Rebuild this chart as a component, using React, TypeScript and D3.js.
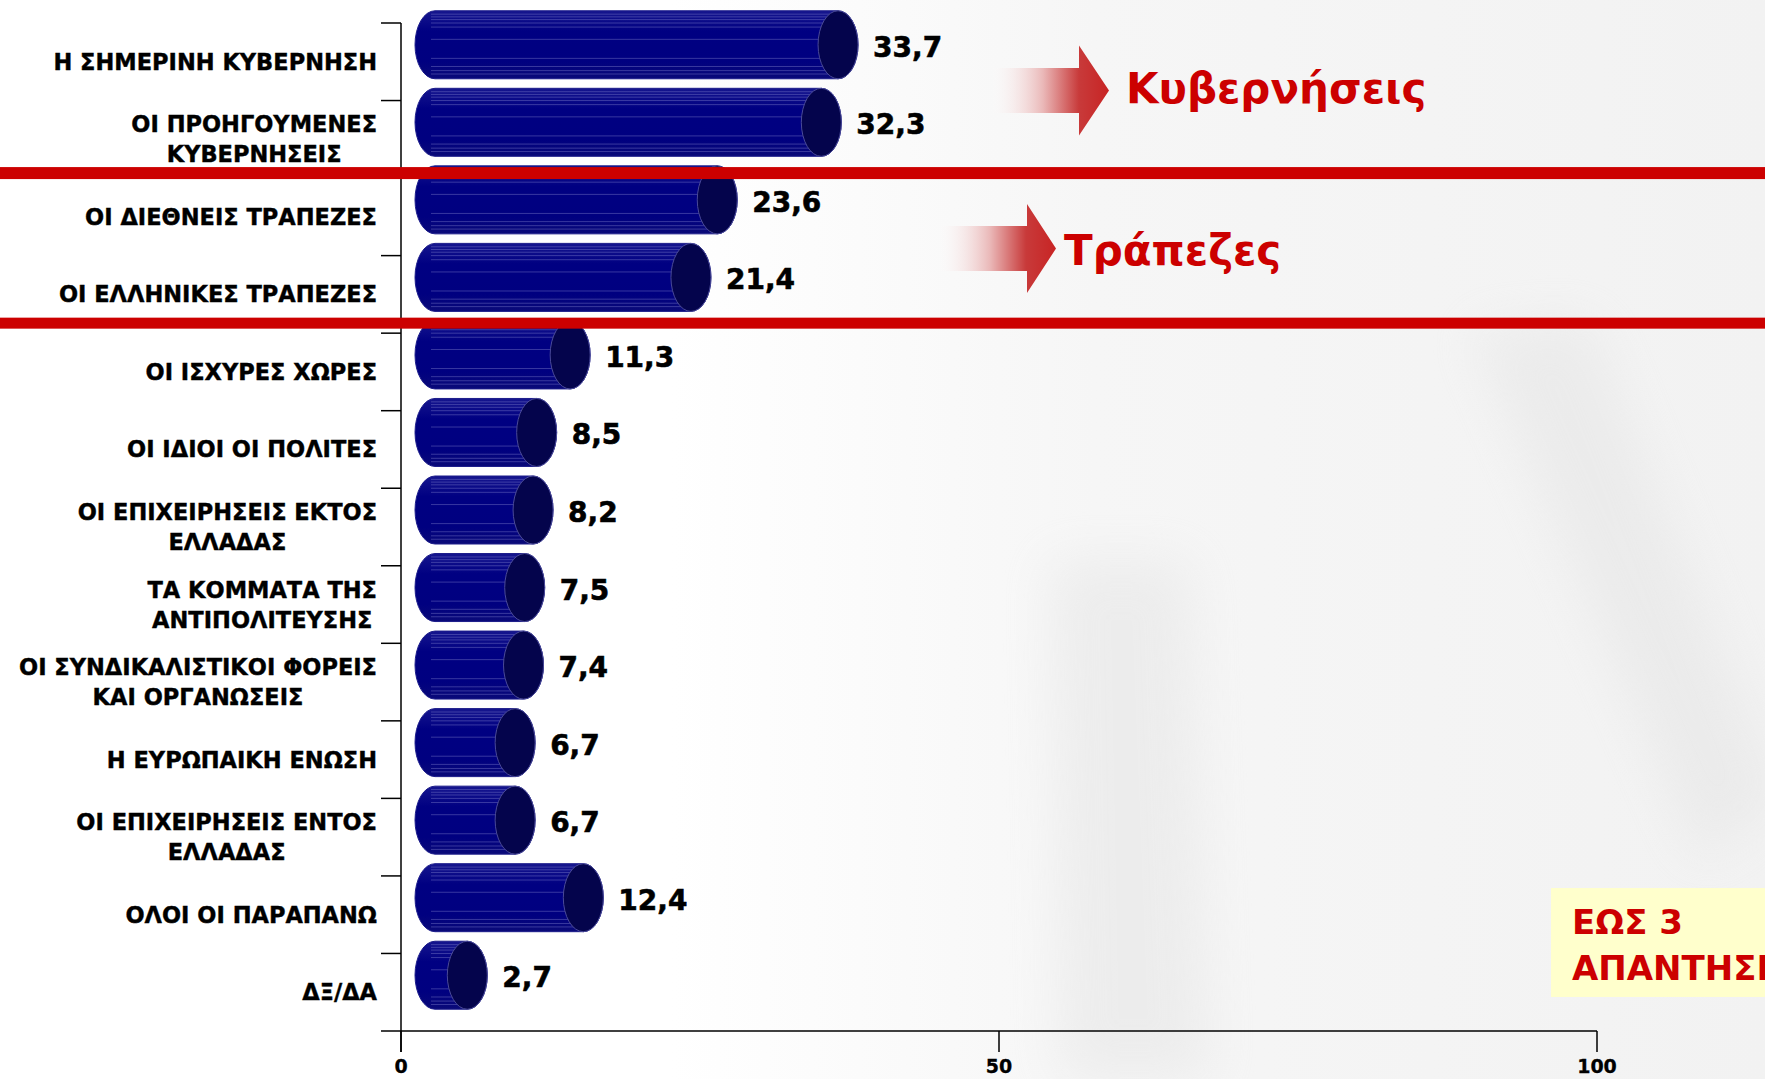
import { useMemo } from "react";
import * as d3 from "d3";

// categories top to bottom, "\n" = line break in the label
const categories = [
  "Η ΣΗΜΕΡΙΝΗ ΚΥΒΕΡΝΗΣΗ",
  "ΟΙ ΠΡΟΗΓΟΥΜΕΝΕΣ\nΚΥΒΕΡΝΗΣΕΙΣ",
  "ΟΙ ΔΙΕΘΝΕΙΣ ΤΡΑΠΕΖΕΣ",
  "ΟΙ ΕΛΛΗΝΙΚΕΣ ΤΡΑΠΕΖΕΣ",
  "ΟΙ ΙΣΧΥΡΕΣ ΧΩΡΕΣ",
  "ΟΙ ΙΔΙΟΙ ΟΙ ΠΟΛΙΤΕΣ",
  "ΟΙ ΕΠΙΧΕΙΡΗΣΕΙΣ ΕΚΤΟΣ\nΕΛΛΑΔΑΣ",
  "ΤΑ ΚΟΜΜΑΤΑ ΤΗΣ\nΑΝΤΙΠΟΛΙΤΕΥΣΗΣ",
  "ΟΙ ΣΥΝΔΙΚΑΛΙΣΤΙΚΟΙ ΦΟΡΕΙΣ\nΚΑΙ ΟΡΓΑΝΩΣΕΙΣ",
  "Η ΕΥΡΩΠΑΙΚΗ ΕΝΩΣΗ",
  "ΟΙ ΕΠΙΧΕΙΡΗΣΕΙΣ ΕΝΤΟΣ\nΕΛΛΑΔΑΣ",
  "ΟΛΟΙ ΟΙ ΠΑΡΑΠΑΝΩ",
  "ΔΞ/ΔΑ",
];
const values = [33.7, 32.3, 23.6, 21.4, 11.3, 8.5, 8.2, 7.5, 7.4, 6.7, 6.7, 12.4, 2.7];
const xTicks = [0, 50, 100];

const groupLabels = ["Κυβερνήσεις", "Τράπεζες"];
const noteLines = ["ΕΩΣ 3", "ΑΠΑΝΤΗΣΕΙΣ"];

const W = 1765;
const H = 1079;
const FONT = "'DejaVu Sans', Verdana, sans-serif";
const LABEL_SIZE = 22.5;

// 3D look of the cylinders
const DEPTH_X = 34;
const DEPTH_Y = -17;
const RX = 20;
const texture = [0.05, 0.09, 0.13, 0.18, 0.24, 0.42, 0.7, 0.82, 0.88, 0.93];

const fmt = (v: number) => v.toFixed(1).replace(".", ",");

export default function App() {
  const x = d3.scaleLinear().domain([0, 100]).range([401, 1597]);
  const y = d3.scaleBand<string>().domain(categories).range([23, 1031]).padding(0);
  const bw = y.bandwidth();
  const ry = 34;

  // measure label lines so two-line labels are centred on each other, right aligned as a block
  const widths = useMemo(() => {
    const ctx = document.createElement("canvas").getContext("2d");
    if (!ctx) return categories.map(() => 300);
    ctx.font = `bold ${LABEL_SIZE}px ${FONT}`;
    return categories.map((c) => d3.max(c.split("\n"), (l) => ctx.measureText(l).width) || 0);
  }, []);

  const labelRight = 377;

  const bars = categories.map((c, i) => {
    const v = values[i];
    const yc = (y(c) || 0) + bw / 2 + DEPTH_Y;
    const x0 = x(0) + DEPTH_X;
    const x1 = x(v) + DEPTH_X;
    const yT = yc - ry;
    const yB = yc + ry;
    const body = `M${x0},${yT} L${x1},${yT} A${RX},${ry} 0 0 1 ${x1},${yB} L${x0},${yB} A${RX},${ry} 0 0 1 ${x0},${yT} Z`;
    return (
      <g key={c}>
        <path d={body} fill="url(#barBody)" stroke="#1c1c8a" strokeWidth={1} />
        {texture.map((t, k) => (
          <line
            key={k}
            x1={x0 - 4}
            x2={x1}
            y1={yT + t * 2 * ry}
            y2={yT + t * 2 * ry}
            stroke="#7a7ac8"
            strokeOpacity={0.45}
            strokeWidth={1}
          />
        ))}
        <ellipse cx={x1} cy={yc} rx={RX} ry={ry} fill="#04044c" stroke="#4a4a98" strokeWidth={1} />
        <text
          x={x1 + RX + 15}
          y={yc + 12}
          fontFamily={FONT}
          fontWeight="bold"
          fontSize={28}
          fill="#000"
          stroke="#000"
          strokeWidth={0.6}
        >
          {fmt(v)}
        </text>
      </g>
    );
  });

  const catLabels = categories.map((c, i) => {
    const lines = c.split("\n");
    const cy = (y(c) || 0) + bw / 2;
    const cx = labelRight - widths[i] / 2;
    const lh = 30;
    return (
      <text
        key={c}
        fontFamily={FONT}
        fontWeight="bold"
        fontSize={LABEL_SIZE}
        fill="#000"
        stroke="#000"
        strokeWidth={0.4}
        textAnchor="middle"
      >
        {lines.map((l, k) => (
          <tspan key={k} x={cx} y={cy + 8 + (k - (lines.length - 1) / 2) * lh}>
            {l}
          </tspan>
        ))}
      </text>
    );
  });

  const arrow = (bx0: number, bx1: number, tip: number, cy: number, bh: number, hh: number) =>
    `M${bx0},${cy - bh / 2} L${bx1},${cy - bh / 2} L${bx1},${cy - hh / 2} L${tip},${cy} L${bx1},${cy + hh / 2} L${bx1},${cy + bh / 2} L${bx0},${cy + bh / 2} Z`;

  const redLine1 = (y(categories[2]) || 0) - 5;
  const redLine2 = (y(categories[4]) || 0) - 10;

  return (
    <svg
      width={W}
      height={H}
      style={{ position: "absolute", left: 0, top: 0, background: "#fff" }}
    >
      <defs>
        <linearGradient id="bgWash" x1="0" x2="1" y1="0" y2="0">
          <stop offset="0" stopColor="#ffffff" />
          <stop offset="0.38" stopColor="#ffffff" />
          <stop offset="0.62" stopColor="#f6f6f6" />
          <stop offset="1" stopColor="#f2f2f2" />
        </linearGradient>
        <filter id="soft" x="-50%" y="-50%" width="200%" height="200%">
          <feGaussianBlur stdDeviation="25" />
        </filter>
        <linearGradient id="barBody" x1="0" x2="0" y1="0" y2="1">
          <stop offset="0" stopColor="#16168e" />
          <stop offset="0.3" stopColor="#000082" />
          <stop offset="0.75" stopColor="#000080" />
          <stop offset="1" stopColor="#0a0a78" />
        </linearGradient>
        <linearGradient id="arrowFill" x1="0" x2="1" y1="0" y2="0">
          <stop offset="0" stopColor="#ffffff" stopOpacity={0} />
          <stop offset="0.45" stopColor="#eab8b8" />
          <stop offset="0.75" stopColor="#c83a3a" />
          <stop offset="1" stopColor="#c82424" />
        </linearGradient>
      </defs>

      {/* faint photo-like background */}
      <rect x={0} y={0} width={W} height={H} fill="url(#bgWash)" />
      <g filter="url(#soft)" fill="#e2e2e2" opacity={0.45}>
        <path d="M1470,330 L1590,320 L1780,800 L1700,860 Z" />
        <path d="M1050,560 L1190,560 L1210,1079 L1060,1079 Z" />
      </g>

      {bars}

      {/* axes */}
      <g stroke="#000" strokeWidth={1.5} fill="none">
        <line x1={x(0)} x2={x(0)} y1={y.range()[0]} y2={y.range()[1] + 21} />
        <line x1={x(0) - 20} x2={x(100)} y1={y.range()[1]} y2={y.range()[1]} />
        {categories.map((c) => (
          <line key={c} x1={x(0) - 20} x2={x(0)} y1={y(c) || 0} y2={y(c) || 0} />
        ))}
        {xTicks.map((t) => (
          <line key={t} x1={x(t)} x2={x(t)} y1={y.range()[1]} y2={y.range()[1] + 21} />
        ))}
      </g>
      {xTicks.map((t) => (
        <text
          key={t}
          x={x(t)}
          y={1073}
          textAnchor="middle"
          fontFamily={FONT}
          fontWeight="bold"
          fontSize={19}
          stroke="#000"
          strokeWidth={0.3}
        >
          {t}
        </text>
      ))}

      {catLabels}

      {/* group separators */}
      <rect x={0} y={redLine1 - 6} width={W} height={12} fill="#cc0000" />
      <rect x={0} y={redLine2 - 5.5} width={W} height={11} fill="#cc0000" />

      {/* group annotations */}
      <path d={arrow(989, 1079, 1109, 90.5, 45, 90)} fill="url(#arrowFill)" />
      <text x={1126} y={103} fontFamily={FONT} fontWeight="bold" fontSize={42} fill="#cc0000">
        {groupLabels[0]}
      </text>
      <path d={arrow(936, 1027, 1056, 248.5, 45, 89)} fill="url(#arrowFill)" />
      <text x={1064} y={265} fontFamily={FONT} fontWeight="bold" fontSize={42} fill="#cc0000">
        {groupLabels[1]}
      </text>

      {/* note box */}
      <rect x={1551} y={888} width={W - 1551} height={109} fill="#ffffcc" />
      {noteLines.map((l, k) => (
        <text
          key={k}
          x={1572}
          y={934 + k * 46}
          fontFamily={FONT}
          fontWeight="bold"
          fontSize={34}
          fill="#cc0000"
        >
          {l}
        </text>
      ))}
    </svg>
  );
}
